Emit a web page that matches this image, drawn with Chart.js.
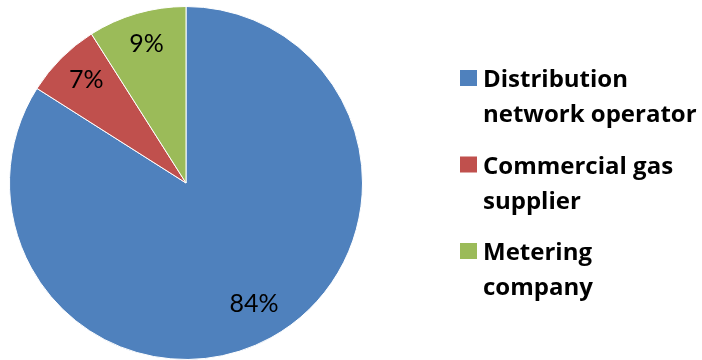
<!DOCTYPE html>
<html>
<head>
<meta charset="utf-8">
<script src="https://cdn.jsdelivr.net/npm/chart.js@4"></script>
<style>
  html, body { margin: 0; padding: 0; background: #fff; }
  #wrap { width: 702px; height: 360px; position: relative; }
</style>
</head>
<body>
<div id="wrap"><canvas id="pieChart" width="702" height="360"></canvas></div>
<script>
// who handles the work, share in percent
const categories = [
  ["Distribution", "network operator"],
  ["Commercial gas", "supplier"],
  ["Metering", "company"],
];
const shares = [84, 7, 9];
const sliceColors = ["#4F81BD", "#C0504D", "#9BBB59"];

// percentage text inside each slice
const sliceLabels = {
  id: "sliceLabels",
  afterDatasetsDraw(chart) {
    const { ctx } = chart;
    const meta = chart.getDatasetMeta(0);
    ctx.save();
    ctx.font = "25px Lato, sans-serif";
    ctx.fillStyle = "#000";
    ctx.textAlign = "center";
    ctx.textBaseline = "middle";
    meta.data.forEach((arc, i) => {
      const angle = (arc.startAngle + arc.endAngle) / 2;
      const r = arc.outerRadius * 0.8;
      const x = arc.x + Math.cos(angle) * r;
      const y = arc.y + Math.sin(angle) * r - 3;
      ctx.fillText(shares[i] + "%", x, y);
    });
    ctx.restore();
  },
};

// legend on the right, two lines per entry
const sideLegend = {
  id: "sideLegend",
  afterDraw(chart) {
    const { ctx } = chart;
    const left = 460;
    const top = 70;
    const step = 86.5;
    const lineGap = 35;
    ctx.save();
    ctx.font = "bold 24px 'Open Sans', sans-serif";
    ctx.fillStyle = "#000";
    ctx.textAlign = "left";
    ctx.textBaseline = "alphabetic";
    categories.forEach((lines, i) => {
      const y = top + i * step;
      ctx.fillStyle = sliceColors[i];
      ctx.fillRect(left, y, 17, 16);
      ctx.fillStyle = "#000";
      lines.forEach((line, j) => {
        ctx.fillText(line, left + 23, y + 17 + j * lineGap);
      });
    });
    ctx.restore();
  },
};

new Chart(document.getElementById("pieChart").getContext("2d"), {
  type: "pie",
  data: {
    labels: categories.map((l) => l.join(" ")),
    datasets: [
      {
        data: shares,
        backgroundColor: sliceColors,
        borderColor: "#fff",
        borderWidth: 1,
      },
    ],
  },
  options: {
    responsive: false,
    animation: false,
    layout: { padding: { left: 9, right: 339, top: 6, bottom: 0 } },
    plugins: {
      legend: { display: false },
      tooltip: { enabled: false },
    },
  },
  plugins: [sliceLabels, sideLegend],
});
</script>
</body>
</html>
